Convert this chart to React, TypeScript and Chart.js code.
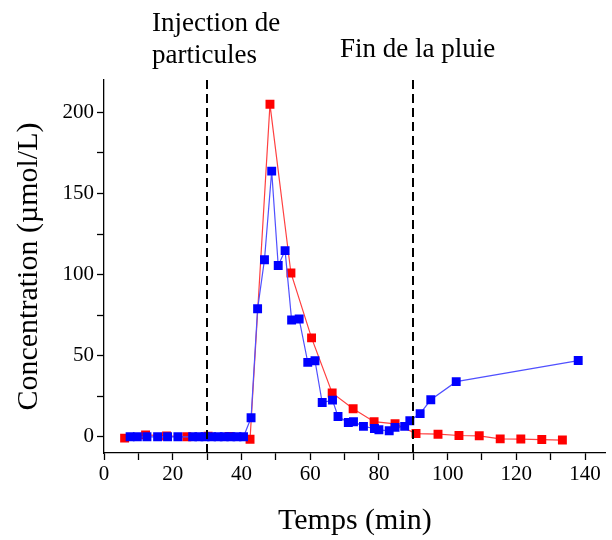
import React, { useEffect, useRef } from 'react';
import { Chart, registerables } from 'chart.js';
Chart.register(...registerables);

const redTime = [6, 12.1, 18.2, 24.1, 30.3, 36.4, 42.5, 48.3, 54.4, 60.4, 66.4, 72.5, 78.6, 84.7, 90.8, 97.2, 103.3, 109.2, 115.3, 121.3, 127.4, 133.4];
const redConc = [-0.8, 1.2, 0.5, 0, 0.3, 0.2, -1.5, 205, 101, 61, 27, 17.3, 9.3, 8, 2, 1.6, 0.8, 0.6, -1.3, -1.4, -1.7, -2];

const blueTime = [7.6, 9.7, 12.5, 15.6, 18.5, 21.5, 25.8, 27.6, 29.4, 31.3, 33.2, 35, 36.9, 38.7, 40.6, 42.8, 44.7, 46.7, 48.8, 50.7, 52.7, 54.6, 56.8, 59.3, 61.4, 63.5, 66.5, 68.1, 71.1, 72.6, 75.5, 78.7, 80, 83, 84.7, 87.5, 89, 92, 95.1, 102.5, 138];
const blueConc = [0, 0, 0, 0, 0, 0, 0, 0, 0, 0, 0, 0, 0, 0, 0, 11.7, 78.9, 109.2, 163.8, 105.6, 114.8, 72, 72.6, 45.9, 46.9, 21.1, 22.6, 12.5, 8.8, 9.3, 6.4, 5.1, 4.3, 3.7, 5.8, 6.4, 9.9, 14.3, 22.8, 34, 47];

const xTicks = [0, 10, 20, 30, 40, 50, 60, 70, 80, 90, 100, 110, 120, 130, 140];
const yTicks = [0, 25, 50, 75, 100, 125, 150, 175, 200];
const eventTimes = [30, 90];
const eventLabels = [['Injection de', 'particules'], ['Fin de la pluie']];

const FONT = '"Liberation Serif", "Times New Roman", serif';

const annotationPlugin = {
  id: 'events',
  afterDatasetsDraw(chart: any) {
    const { ctx, chartArea, scales } = chart;
    ctx.save();
    ctx.strokeStyle = '#000';
    ctx.lineWidth = 2;
    ctx.setLineDash([9, 5]);
    eventTimes.forEach((t) => {
      const px = Math.round(scales.x.getPixelForValue(t));
      ctx.beginPath();
      ctx.moveTo(px, chartArea.top);
      ctx.lineTo(px, chartArea.bottom);
      ctx.stroke();
    });
    ctx.setLineDash([]);
    ctx.fillStyle = '#000';
    ctx.font = `27px ${FONT}`;
    ctx.textBaseline = 'alphabetic';
    ctx.textAlign = 'left';
    ctx.fillText(eventLabels[0][0], 152, 31);
    ctx.fillText(eventLabels[0][1], 152, 63);
    ctx.fillText(eventLabels[1][0], 340, 57);
    ctx.restore();
  },
};

export default function App() {
  const ref = useRef<HTMLCanvasElement>(null);
  useEffect(() => {
    document.body.style.margin = '0';
    const red = redTime.map((x, i) => ({ x, y: redConc[i] }));
    const blue = blueTime.map((x, i) => ({ x, y: blueConc[i] }));
    const chart = new Chart(ref.current as HTMLCanvasElement, {
      type: 'scatter',
      data: {
        datasets: [
          {
            label: 'bleu',
            data: blue,
            showLine: true,
            borderColor: '#5050ff',
            borderWidth: 1.2,
            pointStyle: 'rect',
            pointRadius: 6.3,
            pointBorderWidth: 0,
            pointBackgroundColor: '#0000ff',
            pointBorderColor: '#0000ff',
            order: 0,
          },
          {
            label: 'rouge',
            data: red,
            showLine: true,
            borderColor: '#ff4040',
            borderWidth: 1.2,
            pointStyle: 'rect',
            pointRadius: 6.3,
            pointBorderWidth: 0,
            pointBackgroundColor: '#ff0000',
            pointBorderColor: '#ff0000',
            order: 1,
          },
        ],
      },
      options: {
        animation: false,
        responsive: false,
        devicePixelRatio: 1,
        layout: { padding: { top: 80, right: 0, left: 0, bottom: 0 } },
        plugins: { legend: { display: false }, tooltip: { enabled: false } },
        scales: {
          x: {
            type: 'linear',
            min: 0,
            max: 146,
            afterBuildTicks: (s: any) => { s.ticks = xTicks.map((v) => ({ value: v })); },
            afterFit: (s: any) => { s.height = 87; },
            ticks: {
              autoSkip: false,
              maxRotation: 0,
              padding: 2,
              color: '#000',
              font: { family: FONT, size: 21 },
              callback: (v: any) => (v % 20 === 0 ? String(v) : ''),
            },
            grid: { drawOnChartArea: false, tickLength: 7, color: '#000', tickWidth: 1.3 },
            border: { display: true, color: '#000', width: 1.3 },
            title: {
              display: true,
              text: 'Temps (min)',
              color: '#000',
              font: { family: FONT, size: 30 },
              padding: { top: 0, bottom: 1 },
            },
          },
          y: {
            type: 'linear',
            min: -10,
            max: 220,
            afterBuildTicks: (s: any) => { s.ticks = yTicks.map((v) => ({ value: v })); },
            afterFit: (s: any) => { s.width = 104; },
            ticks: {
              autoSkip: false,
              padding: 3,
              color: '#000',
              font: { family: FONT, size: 21 },
              callback: (v: any) => (v % 50 === 0 ? String(v) : ''),
            },
            grid: { drawOnChartArea: false, tickLength: 7, color: '#000', tickWidth: 1.3 },
            border: { display: true, color: '#000', width: 1.3 },
            title: {
              display: true,
              text: 'Concentration (µmol/L)',
              color: '#000',
              font: { family: FONT, size: 30 },
              padding: { top: 11, bottom: 0 },
            },
          },
        },
      },
      plugins: [annotationPlugin],
    });
    return () => chart.destroy();
  }, []);
  return <canvas ref={ref} width={612} height={540} style={{ display: 'block' }} />;
}
